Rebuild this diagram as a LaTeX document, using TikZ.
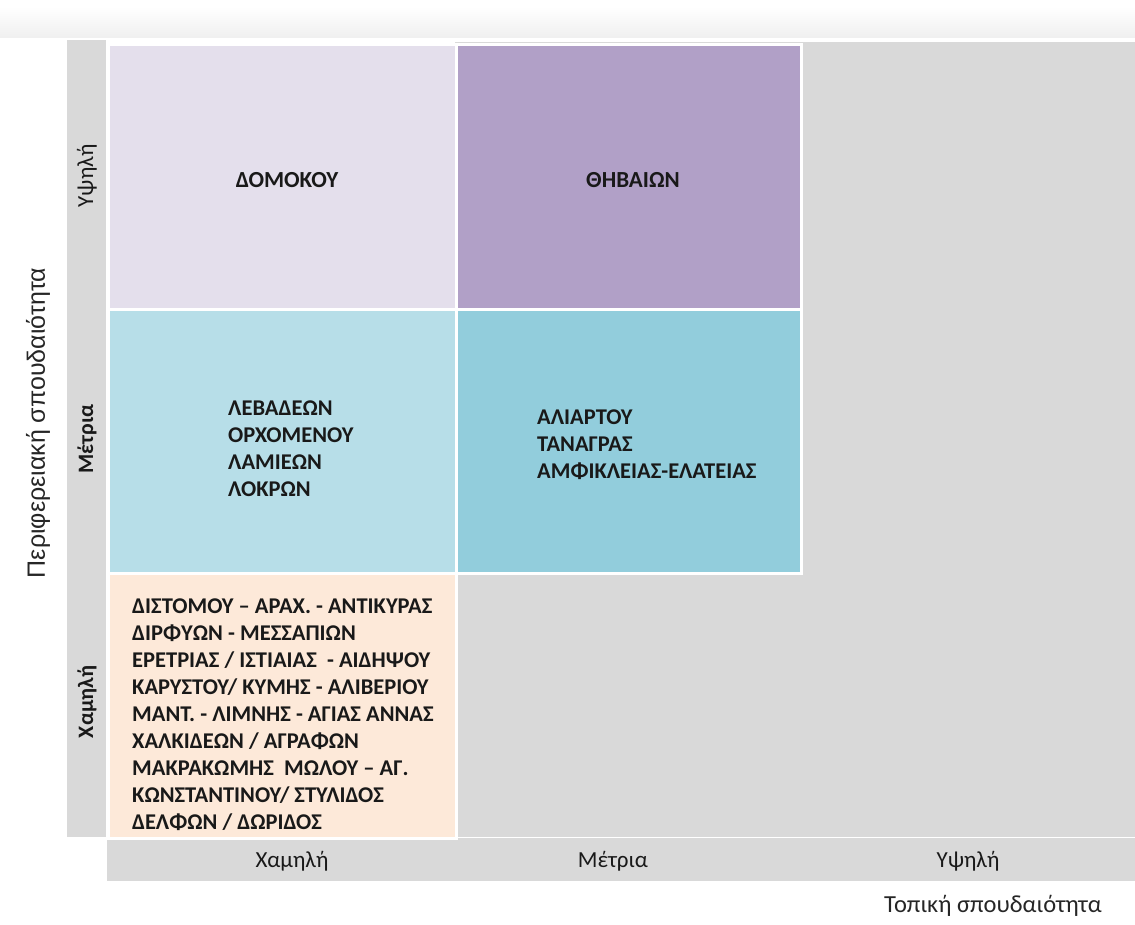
\documentclass[tikz,border=0pt]{standalone}
\usepackage{fontspec}
\setmainfont{Carlito}
\newfontfamily\arialf{Liberation Sans}
\definecolor{axisgray}{HTML}{D9D9D9}
\definecolor{lav}{HTML}{E4DFEC}
\definecolor{purp}{HTML}{B1A0C7}
\definecolor{lblue}{HTML}{B7DEE8}
\definecolor{mblue}{HTML}{92CDDC}
\definecolor{peach}{HTML}{FDE9D9}
\tikzset{
  cell/.style={rectangle, draw=white, line width=3pt, inner sep=0pt, anchor=north west},
  celltext/.style={font=\fontsize{22.5}{27}\selectfont\bfseries, align=left, inner sep=0pt, text=black!90},
  toptext/.style={font=\fontsize{23}{27}\selectfont\bfseries, inner sep=0pt, text=black!90},
  rowlab/.style={rotate=90, inner sep=0pt, font=\fontsize{23}{27}\selectfont, text=black!90},
  collab/.style={inner sep=0pt, font=\fontsize{23}{27}\selectfont, text=black!90},
}
\begin{document}
\begin{tikzpicture}[x=1pt,y=-1pt]
\useasboundingbox (0,0) rectangle (1135,924);
\fill[white] (0,0) rectangle (1135,924);
\shade[top color=white, bottom color=black!6] (0,6) rectangle (1135,37);
% gray background areas
\fill[axisgray] (67,40) rectangle (106,837);
\fill[axisgray] (107,838) rectangle (1135,881);
\fill[axisgray] (455,42) rectangle (1135,837);
% cells
\node[cell, fill=lav,   minimum width=348pt, minimum height=265pt] (c11) at (107,43) {};
\node[cell, fill=purp,  minimum width=345pt, minimum height=265pt] (c12) at (455,43) {};
\node[cell, fill=lblue, minimum width=348pt, minimum height=264pt] (c21) at (107,308) {};
\node[cell, fill=mblue, minimum width=345pt, minimum height=264pt] (c22) at (455,308) {};
\node[cell, fill=peach, minimum width=348pt, minimum height=265pt] (c31) at (107,572) {};
% cell texts
\node[toptext] (t11) at (287,180) {ΔΟΜΟΚΟΥ};
\node[toptext] (t12) at (633,180) {ΘΗΒΑΙΩΝ};
\node[celltext, anchor=west] (t21) at (228,449) {ΛΕΒΑΔΕΩΝ\\ΟΡΧΟΜΕΝΟΥ\\ΛΑΜΙΕΩΝ\\ΛΟΚΡΩΝ};
\node[celltext, anchor=west] (t22) at (537,445) {ΑΛΙΑΡΤΟΥ\\ΤΑΝΑΓΡΑΣ\\ΑΜΦΙΚΛΕΙΑΣ-ΕΛΑΤΕΙΑΣ};
\node[celltext, anchor=west] (t31) at (132,715) {ΔΙΣΤΟΜΟΥ – ΑΡΑΧ. - ΑΝΤΙΚΥΡΑΣ\\ΔΙΡΦΥΩΝ - ΜΕΣΣΑΠΙΩΝ\\ΕΡΕΤΡΙΑΣ / ΙΣΤΙΑΙΑΣ \ - ΑΙΔΗΨΟΥ\\ΚΑΡΥΣΤΟΥ/ ΚΥΜΗΣ - ΑΛΙΒΕΡΙΟΥ\\ΜΑΝΤ. - ΛΙΜΝΗΣ - ΑΓΙΑΣ ΑΝΝΑΣ\\ΧΑΛΚΙΔΕΩΝ / ΑΓΡΑΦΩΝ\\ΜΑΚΡΑΚΩΜΗΣ \ ΜΩΛΟΥ – ΑΓ.\\ΚΩΝΣΤΑΝΤΙΝΟΥ/ ΣΤΥΛΙΔΟΣ\\ΔΕΛΦΩΝ / ΔΩΡΙΔΟΣ};
% row labels
\node[rowlab] (r1) at (87,176) {Υψηλή};
\node[rowlab, font=\fontsize{22}{26}\selectfont\bfseries] (r2) at (87,439) {Μέτρια};
\node[rowlab, font=\fontsize{22}{26}\selectfont\bfseries] (r3) at (87,702) {Χαμηλή};
% column labels
\node[collab] (k1) at (292,861) {Χαμηλή};
\node[collab] (k2) at (613,861) {Μέτρια};
\node[collab] (k3) at (968,861) {Υψηλή};
% axis titles
\node[rotate=90, inner sep=0pt, font=\arialf\fontsize{25}{29}\selectfont, text=black!85] (ay) at (38,423) {Περιφερειακή σπουδαιότητα};
\node[inner sep=0pt, font=\fontsize{24.5}{28}\selectfont, text=black!85] (ax) at (993,906) {Τοπική σπουδαιότητα};
\end{tikzpicture}
\end{document}
